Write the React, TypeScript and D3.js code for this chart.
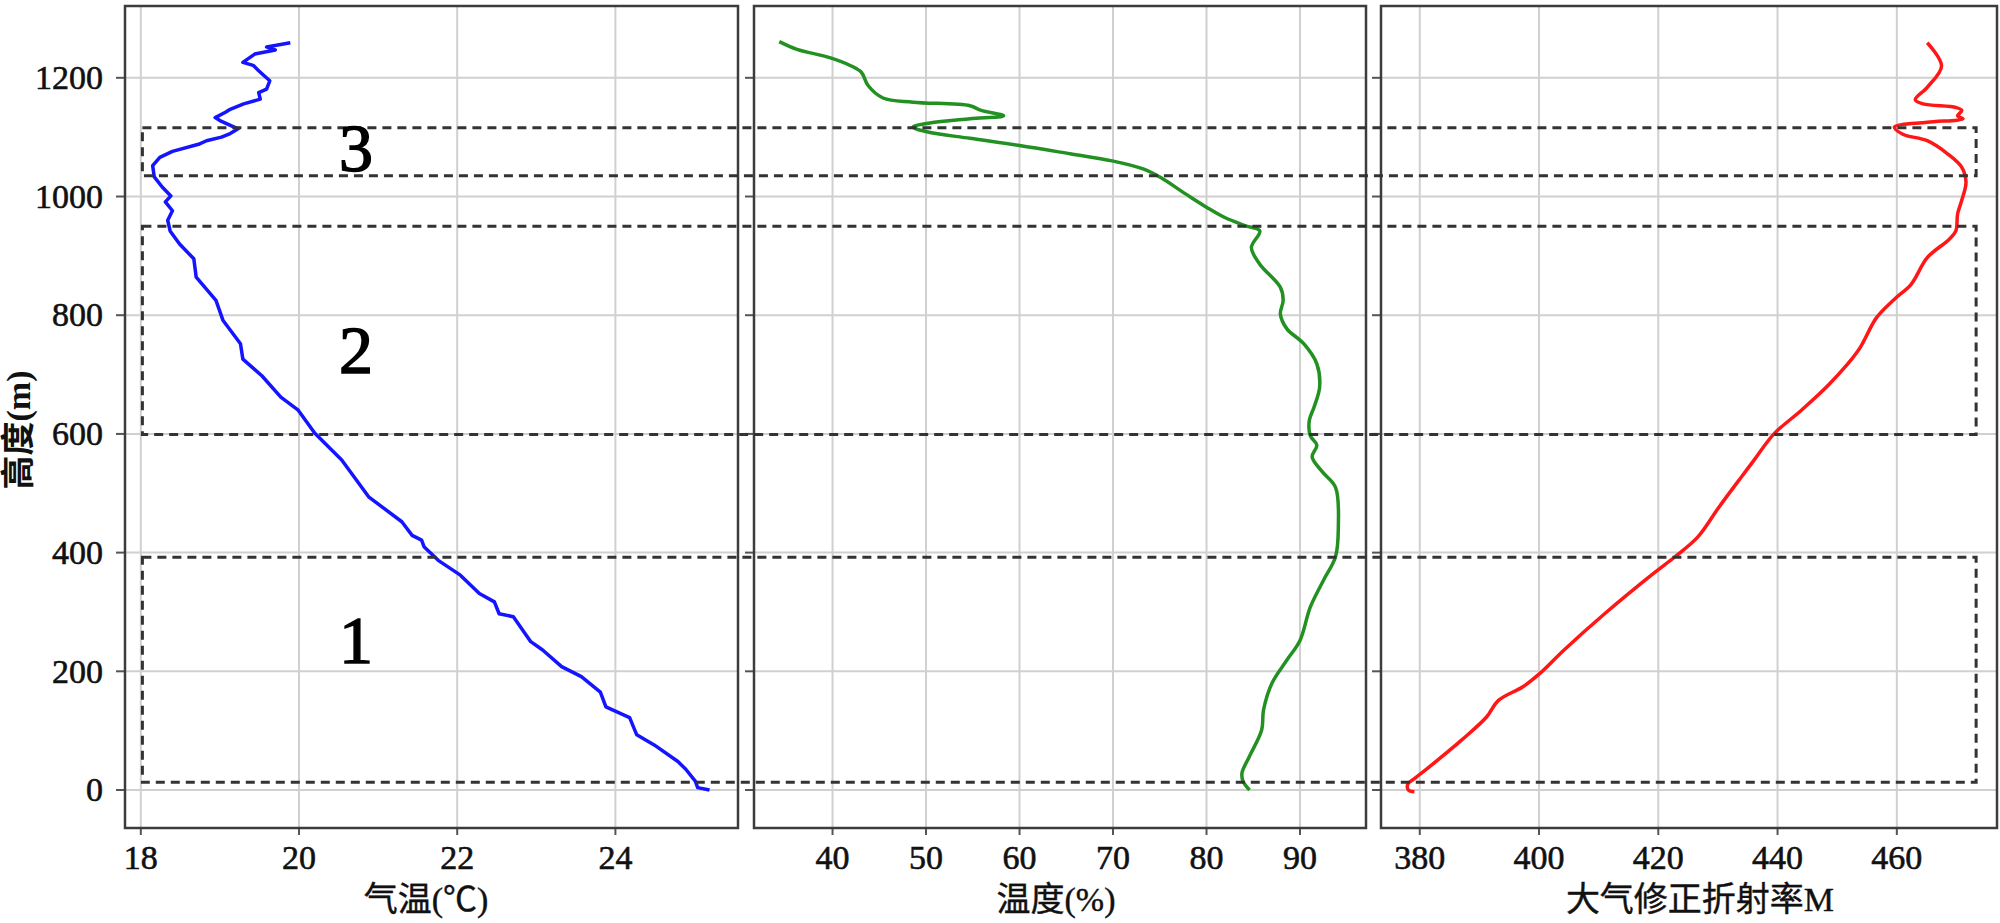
import * as d3 from "d3";
import React from "react";

// height axis (m)
const heightTicks = [0, 200, 400, 600, 800, 1000, 1200];
const tempTicks = [18, 20, 22, 24];
const humTicks = [40, 50, 60, 70, 80, 90];
const refrTicks = [380, 400, 420, 440, 460];

// air temperature profile, bottom to top
const tempHeights = [0, 4, 15, 35, 48, 76, 93, 122, 140, 165, 191, 208, 236, 250, 292, 297, 317, 331, 362, 387, 410, 421, 429, 452, 494, 556, 601, 640, 662, 698, 726, 752, 791, 825, 864, 895, 920, 942, 960, 976, 991, 1001, 1016, 1033, 1052, 1066, 1076, 1088, 1094, 1100, 1106, 1114, 1128, 1133, 1142, 1147, 1156, 1164, 1175, 1181, 1195, 1212, 1221, 1226, 1240, 1247, 1252, 1259];
const tempValues = [25.19, 25.04, 25.01, 24.89, 24.79, 24.49, 24.27, 24.18, 23.88, 23.81, 23.57, 23.32, 23.08, 22.93, 22.71, 22.53, 22.47, 22.28, 22.04, 21.76, 21.58, 21.55, 21.43, 21.3, 20.88, 20.54, 20.2, 19.99, 19.77, 19.53, 19.29, 19.26, 19.04, 18.95, 18.7, 18.67, 18.49, 18.37, 18.34, 18.4, 18.31, 18.38, 18.27, 18.17, 18.15, 18.24, 18.4, 18.73, 18.83, 19.02, 19.13, 19.23, 19.0, 18.94, 19.07, 19.13, 19.3, 19.51, 19.49, 19.59, 19.63, 19.49, 19.42, 19.29, 19.44, 19.7, 19.59, 19.89];

// humidity profile
const humHeights = [0, 15, 29, 57, 101, 135, 180, 219, 252, 308, 353, 393, 443, 510, 536, 561, 581, 597, 623, 645, 679, 718, 752, 777, 802, 825, 847, 886, 914, 942, 951, 965, 982, 1004, 1032, 1046, 1060, 1072, 1086, 1098, 1109, 1117, 1124, 1131, 1136, 1145, 1153, 1159, 1166, 1187, 1209, 1220, 1234, 1248, 1261];
const humValues = [84.6, 83.9, 83.8, 84.6, 85.9, 86.1, 87.0, 88.6, 90.0, 91.1, 92.5, 93.8, 94.1, 93.8, 92.4, 91.3, 91.8, 91.1, 91.0, 91.5, 92.1, 91.8, 90.4, 88.6, 87.9, 88.2, 87.9, 85.7, 84.8, 85.7, 84.1, 81.9, 80.0, 77.8, 75.1, 73.3, 69.9, 65.4, 60.0, 54.7, 50.1, 48.6, 50.4, 54.7, 58.3, 55.9, 54.7, 48.6, 45.4, 43.8, 43.1, 42.0, 39.7, 36.2, 34.3];

// modified refractivity profile
const refrHeights = [-3, 0, 10, 17, 39, 84, 123, 151, 174, 196, 236, 297, 365, 393, 426, 477, 527, 555, 600, 639, 684, 740, 796, 827, 852, 897, 928, 942, 971, 994, 1024, 1049, 1072, 1094, 1105, 1117, 1125, 1131, 1136, 1145, 1150, 1156, 1163, 1184, 1220, 1259];
const refrValues = [379.1, 378.1, 378.0, 378.8, 381.6, 387.0, 391.2, 393.2, 397.3, 400.1, 404.2, 411.0, 419.2, 422.8, 426.6, 430.2, 433.9, 436.0, 439.4, 443.9, 448.7, 453.5, 456.6, 459.6, 462.4, 465.1, 468.8, 469.9, 470.2, 470.9, 471.6, 470.9, 468.5, 465.1, 461.0, 459.6, 465.1, 471.1, 470.2, 470.9, 469.9, 464.4, 463.1, 465.1, 467.5, 465.1];

// layer bands (m)
const bandRanges = [[13, 392], [599, 950], [1035, 1116]];
const bandLabels = ["1", "2", "3"];
const bandLabelHeights = [252, 740, 1080];

const FONT = "'Liberation Serif', 'Times New Roman', 'Noto Sans CJK SC', serif";
const top = 6;
const bottom = 828;

const y = d3.scaleLinear().domain([-64, 1321]).range([bottom, top]);

const panels = [
  { left: 125, right: 738, domain: [17.8, 25.55], ticks: tempTicks, hs: tempHeights, vs: tempValues, color: "#1414ff", title: "气温(℃)", titleX: 426, curve: d3.curveLinear },
  { left: 754, right: 1366, domain: [31.6, 97.06], ticks: humTicks, hs: humHeights, vs: humValues, color: "#229122", title: "温度(%)", titleX: 1056, curve: d3.curveCatmullRom },
  { left: 1381, right: 1997, domain: [373.5, 476.8], ticks: refrTicks, hs: refrHeights, vs: refrValues, color: "#ff1616", title: "大气修正折射率M", titleX: 1700, curve: d3.curveCatmullRom },
];

const Panel = ({ p, i }) => {
  const x = d3.scaleLinear().domain(p.domain).range([p.left, p.right]);
  const line = d3
    .line()
    .x((d) => x(d[1]))
    .y((d) => y(d[0]))
    .curve(p.curve);
  const pts = p.hs.map((h, k) => [h, p.vs[k]]);
  return (
    <g>
      {/* grid */}
      {p.ticks.map((t) => (
        <line key={"gx" + t} x1={x(t)} x2={x(t)} y1={top} y2={bottom} stroke="#d0d0d0" strokeWidth={2} />
      ))}
      {heightTicks.map((t) => (
        <line key={"gy" + t} x1={p.left} x2={p.right} y1={y(t)} y2={y(t)} stroke="#d0d0d0" strokeWidth={2} />
      ))}
      {/* ticks */}
      {p.ticks.map((t) => (
        <g key={"tx" + t}>
          <line x1={x(t)} x2={x(t)} y1={bottom} y2={bottom + 7} stroke="#555" strokeWidth={2} />
          <text x={x(t)} y={bottom + 41} textAnchor="middle" fontSize={34} fontFamily={FONT} fill="#111" stroke="#111" strokeWidth={0.6}>
            {t}
          </text>
        </g>
      ))}
      {heightTicks.map((t) => (
        <g key={"ty" + t}>
          <line x1={p.left - 9} x2={p.left} y1={y(t)} y2={y(t)} stroke="#555" strokeWidth={2} />
          {i === 0 && (
            <text x={p.left - 22} y={y(t)} dy="0.33em" textAnchor="end" fontSize={34} fontFamily={FONT} fill="#111" stroke="#111" strokeWidth={0.6}>
              {t}
            </text>
          )}
        </g>
      ))}
      <path d={line(pts)} fill="none" stroke={p.color} strokeWidth={3.5} strokeLinejoin="round" />
      <rect x={p.left} y={top} width={p.right - p.left} height={bottom - top} fill="none" stroke="#3c3c3c" strokeWidth={2.5} />
      <text x={p.titleX} y={911} textAnchor="middle" fontSize={34} fontFamily={FONT} fill="#111" stroke="#111" strokeWidth={0.4}>
        {p.title}
      </text>
    </g>
  );
};

export default function App() {
  const x1 = d3.scaleLinear().domain(panels[0].domain).range([panels[0].left, panels[0].right]);
  const x3 = d3.scaleLinear().domain(panels[2].domain).range([panels[2].left, panels[2].right]);
  const bx0 = x1(18.02);
  const bx1 = x3(473.3);
  return (
    <div style={{ position: "absolute", left: 0, top: 0 }}>
      <svg width={2000} height={923} style={{ display: "block", background: "#fff" }}>
        {panels.map((p, i) => (
          <Panel key={i} p={p} i={i} />
        ))}
        {bandRanges.map(([lo, hi], k) => (
          <rect
            key={"b" + k}
            x={bx0}
            y={y(hi)}
            width={bx1 - bx0}
            height={y(lo) - y(hi)}
            fill="none"
            stroke="#333"
            strokeWidth={3}
            strokeDasharray="9 6"
          />
        ))}
        {bandLabels.map((s, k) => (
          <text key={"l" + k} x={x1(20.72)} y={y(bandLabelHeights[k])} dy="0.33em" textAnchor="middle" fontSize={68} fontFamily={FONT} fill="#000" stroke="#000" strokeWidth={1.5}>
            {s}
          </text>
        ))}
        <text
          transform={`translate(30, 430) rotate(-90)`}
          textAnchor="middle"
          fontSize={34}
          fontWeight="bold"
          fontFamily={FONT}
          fill="#111"
        >
          高度(m)
        </text>
      </svg>
    </div>
  );
}
